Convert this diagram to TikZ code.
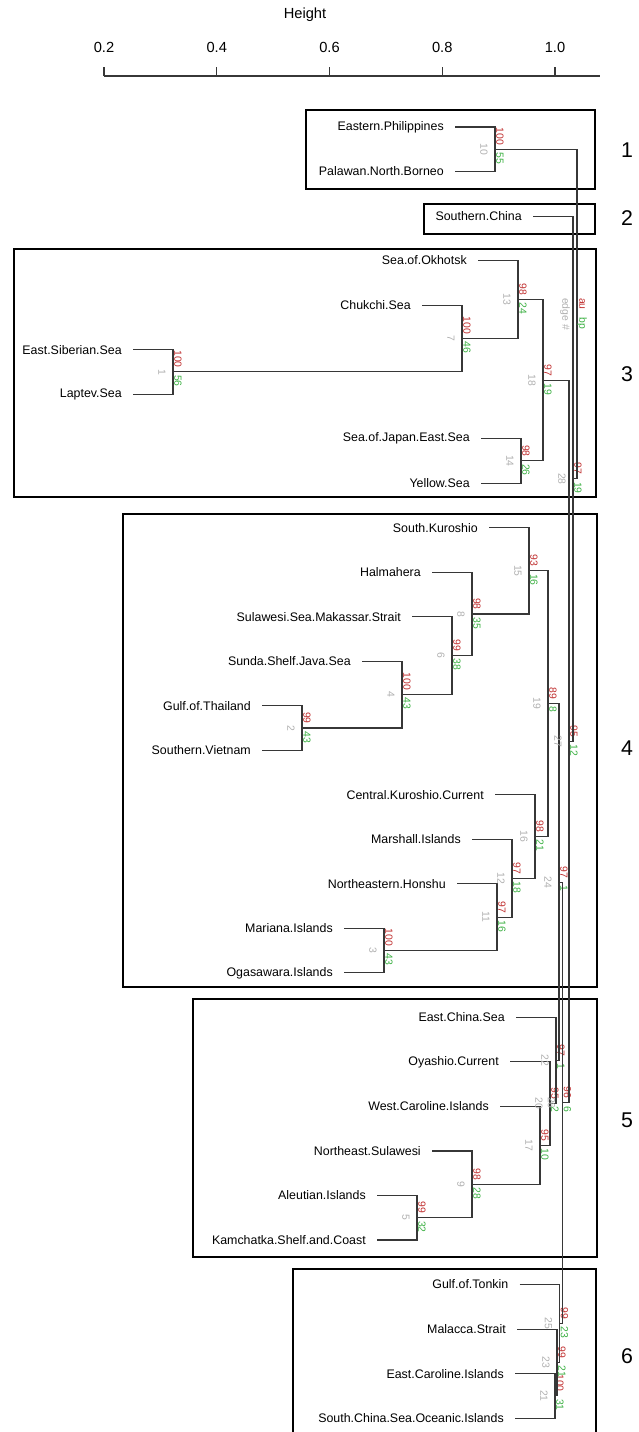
\documentclass[tikz,border=0pt]{standalone}
\usepackage{fontspec}
\setmainfont{Liberation Sans}
\usepackage{tikz}
\usetikzlibrary{calc}
\definecolor{aured}{RGB}{192,48,48}
\definecolor{bpgreen}{RGB}{60,176,67}
\definecolor{edgegrey}{RGB}{176,176,176}
\definecolor{treegrey}{RGB}{55,55,55}
\newcommand{\leaffont}{\fontsize{9.3}{11}\selectfont}
\newcommand{\pvfont}{\fontsize{7.8}{9}\selectfont}
\tikzset{
    branch/.style={
        draw=treegrey,
        line width=0.8pt
    },
    leaflabel/.style={
        anchor=east,
        inner sep=0pt,
        font=\leaffont
    },
    aulabel/.style={
        rotate=-90,
        anchor=east,
        inner sep=0pt,
        text=aured,
        font=\pvfont
    },
    bplabel/.style={
        rotate=-90,
        anchor=west,
        inner sep=0pt,
        text=bpgreen,
        font=\pvfont
    },
    edgelabel/.style={
        rotate=-90,
        inner sep=0pt,
        text=edgegrey,
        font=\pvfont
    },
    groupbox/.style={draw=black, line width=1.5pt},
    grouplabel/.style={font=\fontsize{16}{18}\selectfont},
    axislabel/.style={font=\fontsize{11}{13}\selectfont}
}

\begin{document}
\begin{tikzpicture}[x=0.75pt,y=-0.75pt]

\useasboundingbox (0,0) rectangle (639,1432);
\clip (0,0) rectangle (639,1432);

% Height axis
\node[axislabel] (height) at (305,15) {Height};
\draw[line width=0.8pt, treegrey] (104,76) -- (600,76);
\foreach \h [count=\j] in {0.2,0.4,0.6,0.8,1.0}{
    \pgfmathsetmacro{\tx}{104+(\h-0.2)*563.75}
    \draw[line width=0.8pt, treegrey] (\tx,76) -- (\tx,67);
    \node[axislabel] (tick\j) at (\tx,47) {\h};
}

% Cluster boxes
\draw[groupbox] (306,110) rectangle (595,189);
\draw[groupbox] (424,204) rectangle (595,234);
\draw[groupbox] (14,249) rectangle (596,497);
\draw[groupbox] (123,514) rectangle (597,987);
\draw[groupbox] (193,999) rectangle (597,1257);
\draw[groupbox] (293,1269) rectangle (596,1445);

% Cluster numbers
\node[grouplabel] (g1) at (627,150) {1};
\node[grouplabel] (g2) at (627,218) {2};
\node[grouplabel] (g3) at (627,374) {3};
\node[grouplabel] (g4) at (627,748) {4};
\node[grouplabel] (g5) at (627,1120) {5};
\node[grouplabel] (g6) at (627,1356) {6};

% Leaves: index / label / height of parent
\foreach \i/\lab/\px in {
    1/Eastern.Philippines/495, 2/Palawan.North.Borneo/495,
    3/Southern.China/573, 4/Sea.of.Okhotsk/518, 5/Chukchi.Sea/462,
    6/East.Siberian.Sea/173, 7/Laptev.Sea/173,
    8/Sea.of.Japan.East.Sea/521, 9/Yellow.Sea/521,
    10/South.Kuroshio/529, 11/Halmahera/472,
    12/Sulawesi.Sea.Makassar.Strait/452, 13/Sunda.Shelf.Java.Sea/402,
    14/Gulf.of.Thailand/302, 15/Southern.Vietnam/302,
    16/Central.Kuroshio.Current/535, 17/Marshall.Islands/512,
    18/Northeastern.Honshu/497, 19/Mariana.Islands/384,
    20/Ogasawara.Islands/384, 21/East.China.Sea/556,
    22/Oyashio.Current/550, 23/West.Caroline.Islands/540,
    24/Northeast.Sulawesi/472, 25/Aleutian.Islands/417,
    26/Kamchatka.Shelf.and.Coast/417, 27/Gulf.of.Tonkin/559.5,
    28/Malacca.Strait/557, 29/East.Caroline.Islands/555,
    30/South.China.Sea.Oceanic.Islands/555}{
    \pgfmathsetmacro{\ly}{127+(\i-1)*44.52}
    \coordinate (l\i) at (\px-40,\ly);
    \node[leaflabel] (t\i) at (\px-51,\ly) {\lab};
}

% Merges: edge / height / position / children / au / bp
\foreach \k/\x/\y/\a/\b/\au/\bp in {
    1/173/371.9/l6/l7/100/56, 2/302/728/l14/l15/99/43,
    3/384/950.6/l19/l20/100/43, 4/402/694.6/l13/n2/100/43,
    5/417/1217.8/l25/l26/99/32, 6/452/655.7/l12/n4/99/38,
    7/462/338.5/l5/n1/100/46, 8/472/614/l11/n6/98/35,
    9/472/1184.4/l24/n5/98/28, 10/495/149.3/l1/l2/100/55,
    11/497/917.2/l18/n3/97/16, 12/512/878.3/l17/n11/97/18,
    13/518/299.5/l4/n7/98/24, 14/521/460.9/l8/l9/98/26,
    15/529/570.8/l10/n8/93/16, 16/535/836.5/l16/n12/98/21,
    17/540/1145.4/l23/n9/95/10, 18/543/380.2/n13/n14/97/19,
    19/548/703.7/n15/n16/89/8, 20/550/1103.7/l22/n17/95/2,
    21/555/1395.9/l29/l30/100/31, 22/556/1060.5/l21/n20/97/1,
    23/557/1362.4/l28/n21/99/21, 24/559/882.1/n19/n22/97/1,
    25/559.5/1323.5/l27/n23/99/23, 26/562.5/1102.8/n24/n25/96/6,
    27/569/741.5/n18/n26/95/12, 28/573/478.8/l3/n27/97/19}{
    \coordinate (n\k) at (\x,\y);
    \draw[branch] (\a) -| (n\k) |- (\b);
    \node[aulabel] (au\k) at ([shift={(5,-4)}]n\k) {\au};
    \node[bplabel] (bp\k) at ([shift={(5,3)}]n\k) {\bp};
    \node[edgelabel] (ed\k) at ([shift={(-11,0)}]n\k) {\k};
}

% Root with legend
\coordinate (n29) at (577,314);
\draw[branch] (n10) -| (n29) |- (n28);
\node[aulabel] (aulegend) at ([shift={(5,-4)}]n29) {au};
\node[bplabel] (bplegend) at ([shift={(5,3)}]n29) {bp};
\node[edgelabel] (edlegend) at ([shift={(-12,0)}]n29) {edge \#};

\end{tikzpicture}
\end{document}
